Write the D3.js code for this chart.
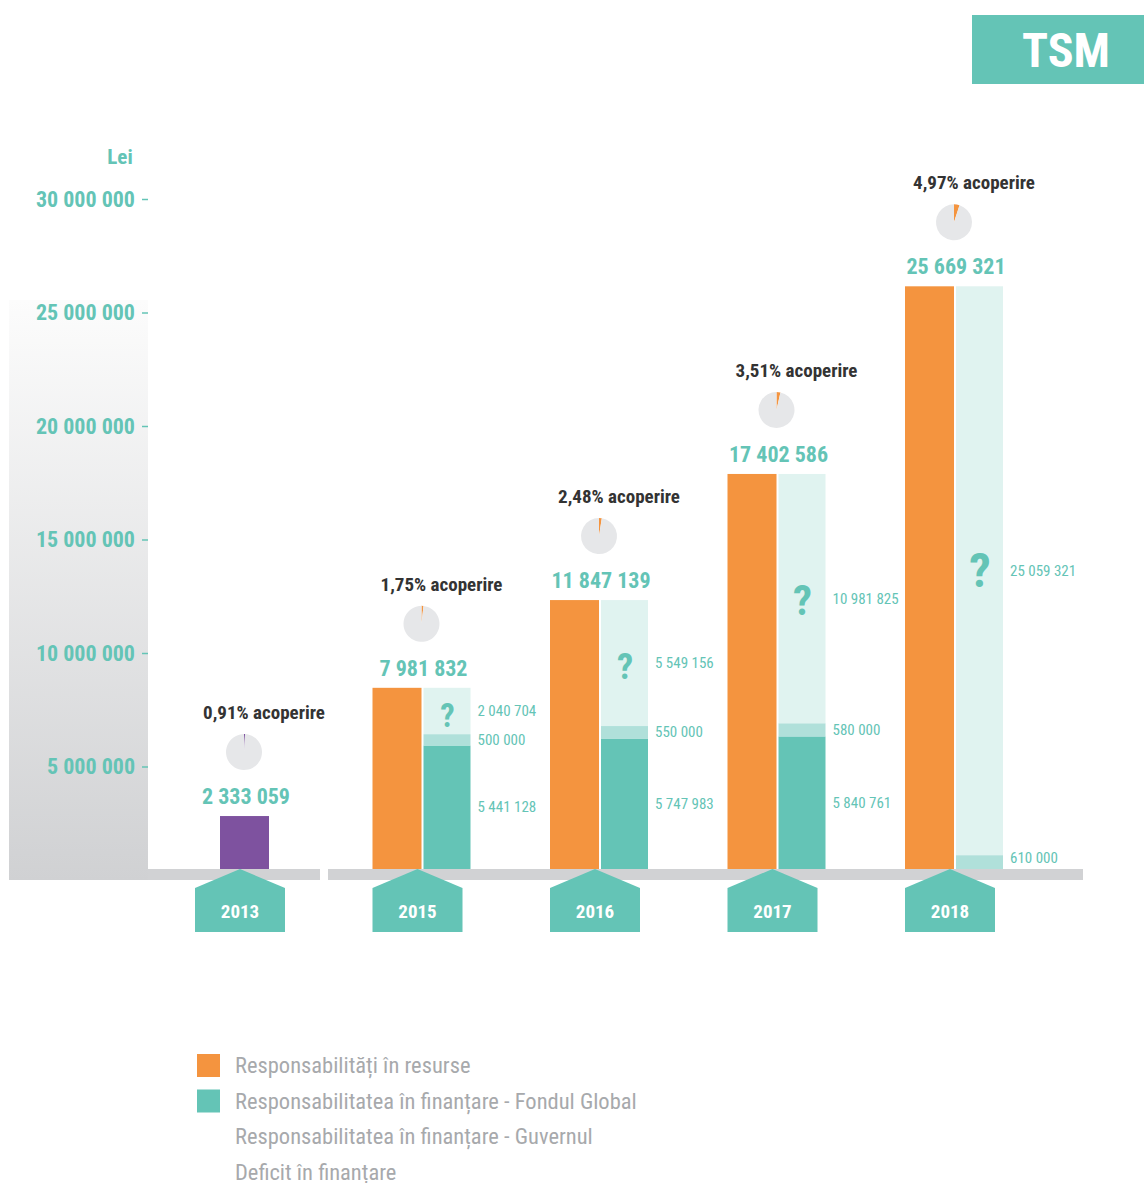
<!DOCTYPE html>
<html>
<head>
<meta charset="utf-8">
<script src="https://cdn.jsdelivr.net/npm/d3@7"></script>
<style>
  body { margin: 0; background: #fff; }
  text { font-family: "Liberation Sans Narrow", "Arial Narrow", "Roboto Condensed", sans-serif; }
</style>
</head>
<body>
<svg id="chart" width="1144" height="1183"></svg>
<script>
// data
var years = ['2013', '2015', '2016', '2017', '2018'];
var resurse = [2333059, 7981832, 11847139, 17402586, 25669321];   // Responsabilitati in resurse
var fondulGlobal = [0, 5441128, 5747983, 5840761, 0];
var guvernul = [0, 500000, 550000, 580000, 610000];
var deficit = [0, 2040704, 5549156, 10981825, 25059321];
var acoperire = [0.91, 1.75, 2.48, 3.51, 4.97];
var yTicks = [5000000, 10000000, 15000000, 20000000, 25000000, 30000000];
var legendLabels = ['Responsabilități în resurse', 'Responsabilitatea în finanțare - Fondul Global',
                    'Responsabilitatea în finanțare - Guvernul', 'Deficit în finanțare'];

var ORANGE = '#f4943f', TEAL = '#64c4b6', GOV = '#b0e0da', DEF = '#e0f3f0',
    PURPLE = '#7e529f', GREY = '#d1d2d4', DARK = '#333333';

var svg = d3.select('#chart');
var loc = d3.formatLocale({ decimal: ',', thousands: ' ', grouping: [3], currency: ['', ''] });
var fmt = loc.format(',d');

var y = d3.scaleLinear().domain([0, 30000000]).range([880, 199]);
var x = d3.scalePoint().domain(years).range([244, 954]);
var baseY = 869, lift = 880 - baseY;
var barW = 48;

// TSM badge
svg.append('rect').attr('x', 972).attr('y', 15).attr('width', 172).attr('height', 69).attr('fill', TEAL);
svg.append('text').attr('x', 1066).attr('y', 67).attr('text-anchor', 'middle')
    .attr('fill', '#fff').attr('font-size', 48).attr('font-weight', 'bold').text('TSM');

// grey gradient behind the axis
var grad = svg.append('defs').append('linearGradient').attr('id', 'g1')
    .attr('x1', 0).attr('y1', 0).attr('x2', 0).attr('y2', 1);
grad.append('stop').attr('offset', '0%').attr('stop-color', '#fcfcfc');
grad.append('stop').attr('offset', '100%').attr('stop-color', '#d0d1d3');
svg.append('rect').attr('x', 9).attr('y', 300).attr('width', 139).attr('height', 580).attr('fill', 'url(#g1)');

// base band
svg.append('rect').attr('x', 148).attr('y', baseY).attr('width', 172).attr('height', 11).attr('fill', GREY);
svg.append('rect').attr('x', 328).attr('y', baseY).attr('width', 755).attr('height', 11).attr('fill', GREY);

// y axis
var yAxis = svg.append('g').attr('transform', 'translate(148,0)')
    .call(d3.axisLeft(y).tickValues(yTicks).tickFormat(fmt).tickSize(6).tickPadding(7));
yAxis.select('.domain').remove();
yAxis.selectAll('line').attr('stroke', TEAL).attr('stroke-width', 1.5);
yAxis.selectAll('text').attr('fill', TEAL).attr('font-size', 22).attr('font-weight', 'bold')
    .attr('font-family', '"Liberation Sans Narrow", "Arial Narrow", sans-serif');

svg.append('text').attr('x', 120).attr('y', 164).attr('text-anchor', 'middle')
    .attr('fill', TEAL).attr('font-size', 21).attr('font-weight', 'bold').text('Lei');

// bars
var bars = svg.append('g').attr('transform', 'translate(0,' + (-lift) + ')');

years.forEach(function(yr, i) {
    var cx = x(yr);
    var top;
    if (i == 0) {
        bars.append('rect').attr('x', cx - barW / 2).attr('y', y(resurse[i]))
            .attr('width', barW + 1).attr('height', y(0) - y(resurse[i])).attr('fill', PURPLE);
        top = y(resurse[i]) - lift;
    } else {
        bars.append('rect').attr('x', cx - barW - 1).attr('y', y(resurse[i]))
            .attr('width', barW + 1).attr('height', y(0) - y(resurse[i])).attr('fill', ORANGE);
        // stacked funding column
        var segs = [
            { v: fondulGlobal[i], c: TEAL },
            { v: guvernul[i], c: GOV },
            { v: deficit[i], c: DEF, q: true }
        ];
        var acc = 0;
        var labelYs = [];
        segs.forEach(function(s) {
            var y0 = y(acc), y1 = y(acc + s.v);
            if (s.v > 0) {
                bars.append('rect').attr('x', cx + 2).attr('y', y1)
                    .attr('width', barW - 1).attr('height', y0 - y1).attr('fill', s.c);
                labelYs.push({ v: s.v, y: (y0 + y1) / 2 });
                if (s.q) {
                    bars.append('text').attr('x', cx + 2 + barW / 2).attr('y', (y0 + y1) / 2 + 16)
                        .attr('text-anchor', 'middle').attr('fill', TEAL)
                        .attr('font-size', Math.min(48, 30 + (y0 - y1) / 20)).attr('font-weight', 'bold').text('?');
                }
            }
            acc += s.v;
        });
        // keep value labels from overlapping
        for (var k = 1; k < labelYs.length; k++) {
            if (labelYs[k - 1].y - labelYs[k].y < 22) labelYs[k].y = labelYs[k - 1].y - 22;
        }
        labelYs.forEach(function(l) {
            bars.append('text').attr('x', cx + barW + 8).attr('y', Math.min(l.y + 5, y(0) - 6))
                .attr('fill', TEAL).attr('font-size', 15).text(fmt(l.v));
        });
        top = y(resurse[i]) - lift;
    }

    // total value
    svg.append('text').attr('x', cx + 2).attr('y', top - 12).attr('text-anchor', 'middle')
        .attr('fill', TEAL).attr('font-size', 22).attr('font-weight', 'bold').text(fmt(resurse[i]));

    // small coverage pie
    var pie = d3.pie().sort(null)([acoperire[i], 100 - acoperire[i]]);
    var arc = d3.arc().innerRadius(0).outerRadius(18);
    svg.append('g').attr('transform', 'translate(' + cx + ',' + (top - 64) + ')')
        .selectAll('path').data(pie).enter().append('path')
        .attr('d', arc)
        .attr('fill', function(d, j) { return j == 0 ? (i == 0 ? PURPLE : ORANGE) : '#e6e7e9'; });

    svg.append('text').attr('x', cx + 20).attr('y', top - 97).attr('text-anchor', 'middle')
        .attr('fill', DARK).attr('font-size', 19).attr('font-weight', 'bold')
        .text(String(acoperire[i]).replace('.', ',') + '% acoperire');

    // year tag
    var tx = cx - 4;
    svg.append('path')
        .attr('d', 'M' + tx + ',' + baseY + ' L' + (tx + 45) + ',' + (baseY + 19) + ' L' + (tx + 45) + ',' + 932 +
              ' L' + (tx - 45) + ',' + 932 + ' L' + (tx - 45) + ',' + (baseY + 19) + ' Z')
        .attr('fill', TEAL);
    svg.append('text').attr('x', tx).attr('y', 918).attr('text-anchor', 'middle')
        .attr('fill', '#fff').attr('font-size', 19).attr('font-weight', 'bold').text(yr);
});

// legend
var legend = svg.append('g');
legendLabels.forEach(function(lab, i) {
    var ly = 1073 + i * 35.5;
    if (i < 2) {
        legend.append('rect').attr('x', 197).attr('y', ly - 19).attr('width', 23).attr('height', 23)
            .attr('fill', i == 0 ? ORANGE : TEAL);
    }
    legend.append('text').attr('x', 235).attr('y', ly).attr('fill', '#a7a9ac')
        .attr('font-size', 22.5).text(lab);
});
</script>
</body>
</html>
